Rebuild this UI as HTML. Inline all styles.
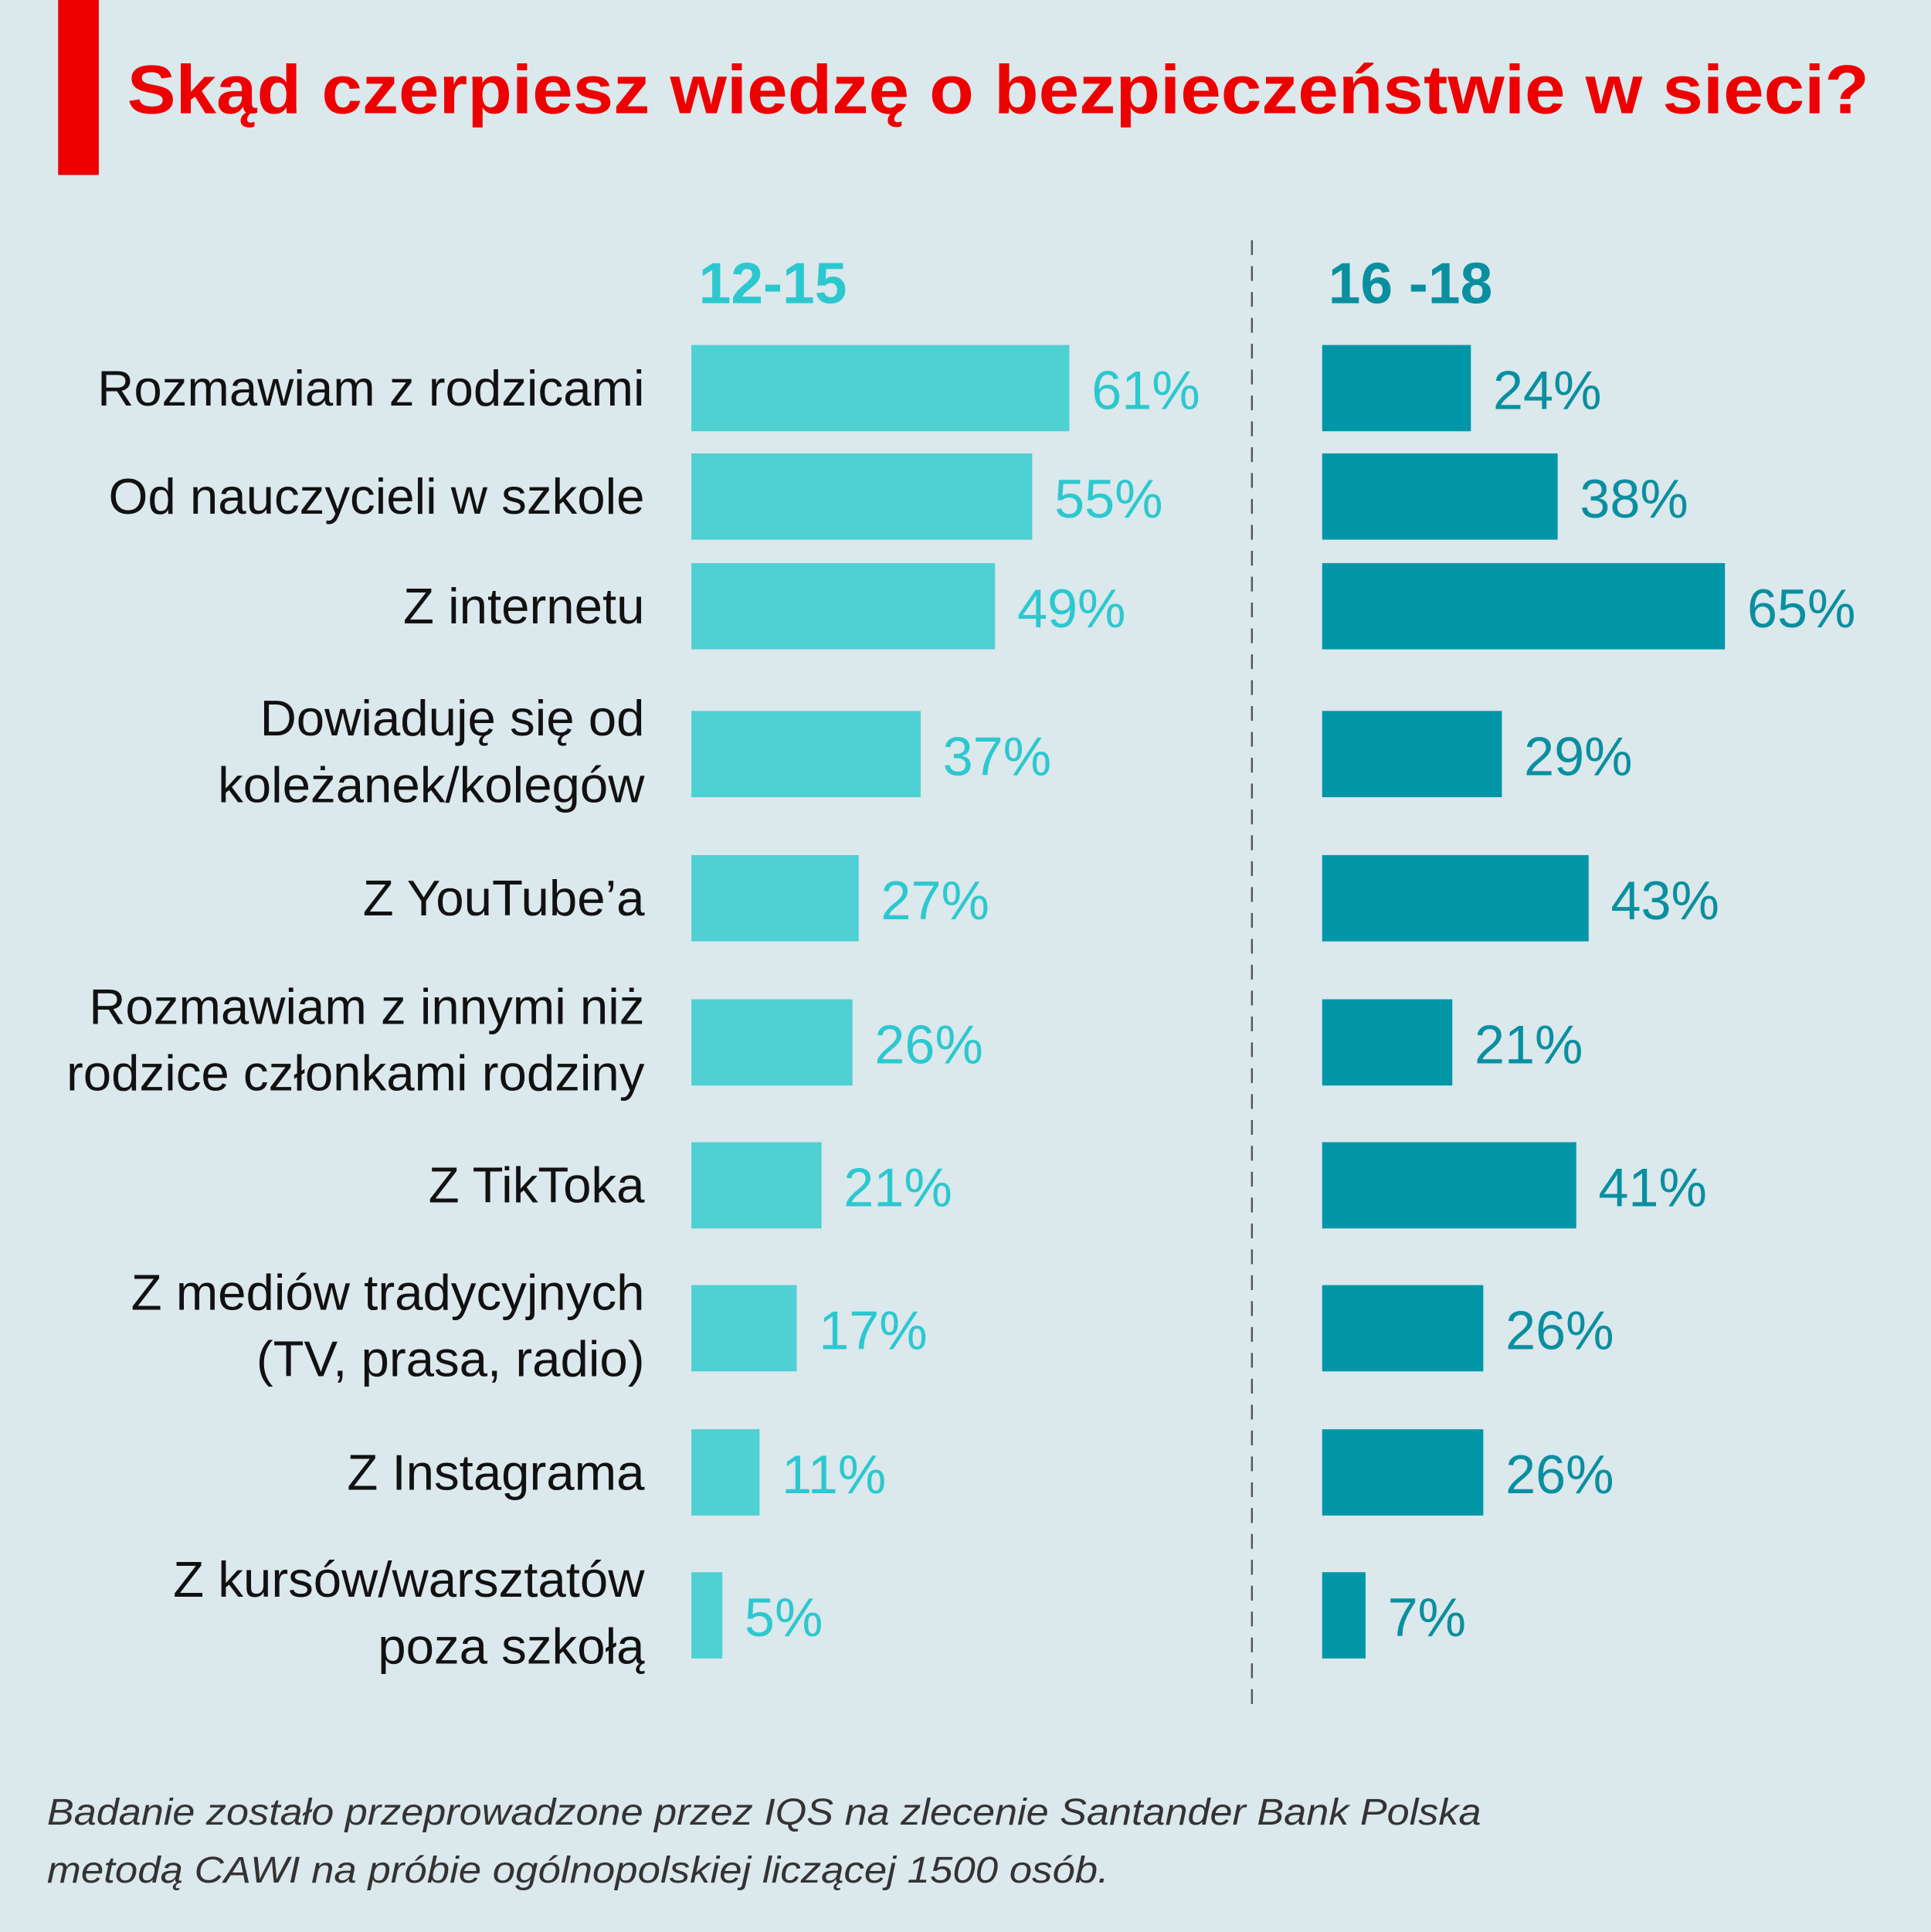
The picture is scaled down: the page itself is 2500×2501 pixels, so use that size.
<!DOCTYPE html>
<html><head><meta charset="utf-8"><style>
html,body{margin:0;padding:0;background:#dbe8ec;}
svg{display:block;font-family:"Liberation Sans",sans-serif;}
</style></head><body>
<svg id="chart" width="2500" height="2501" viewBox="0 0 1567 1568" xmlns="http://www.w3.org/2000/svg">
<rect x="0" y="0" width="1567" height="1568" fill="#dbe8ec"/>
<rect x="47" y="0" width="33" height="142" fill="#ec0000"/>
<text x="103" y="92" font-size="56" font-weight="bold" fill="#ec0000" textLength="1414" lengthAdjust="spacingAndGlyphs">Skąd czerpiesz wiedzę o bezpieczeństwie w sieci?</text>
<text x="567" y="246" font-size="47" font-weight="bold" fill="#2cc8cf">12-15</text>
<text x="1078" y="246" font-size="47" font-weight="bold" fill="#0a8fa0">16 -18</text>
<line x1="1016" y1="195" x2="1016" y2="1390" stroke="#555" stroke-width="1.5" stroke-dasharray="12,9"/>
<g id="rows"></g>
<text x="38" y="1481" font-size="30" font-style="italic" fill="#333" textLength="1164" lengthAdjust="spacingAndGlyphs">Badanie zostało przeprowadzone przez IQS na zlecenie Santander Bank Polska</text>
<text x="38" y="1528" font-size="30" font-style="italic" fill="#333" textLength="862" lengthAdjust="spacingAndGlyphs">metodą CAWI na próbie ogólnopolskiej liczącej 1500 osób.</text>
</svg>
<script>
const categories = [
  ["Rozmawiam z rodzicami"],
  ["Od nauczycieli w szkole"],
  ["Z internetu"],
  ["Dowiaduję się od","koleżanek/kolegów"],
  ["Z YouTube’a"],
  ["Rozmawiam z innymi niż","rodzice członkami rodziny"],
  ["Z TikToka"],
  ["Z mediów tradycyjnych","(TV, prasa, radio)"],
  ["Z Instagrama"],
  ["Z kursów/warsztatów","poza szkołą"]
];
const values1215 = [61,55,49,37,27,26,21,17,11,5];
const values1618 = [24,38,65,29,43,21,41,26,26,7];
const rowTops = [280,368,457,577,694,811,927,1043,1160,1276];

const NS = "http://www.w3.org/2000/svg";
const g = document.getElementById("rows");
const scale = 5.03, x1 = 561, x2 = 1073, barH = 70;
function xLeft(v){return x1 + v*scale;}
function xRight(v){return x2 + v*scale;}
function mk(tag, attrs){const e=document.createElementNS(NS,tag);for(const k in attrs)e.setAttribute(k,attrs[k]);g.appendChild(e);return e;}

categories.forEach((lines,i)=>{
  const top = rowTops[i], cy = top + barH/2;
  const lbl = mk("text",{x:523,"text-anchor":"end","font-size":41,fill:"#111"});
  
  
  if(lines.length===1){
    lbl.setAttribute("y", cy+14);
    lbl.textContent = lines[0];
  } else {
    lines.forEach((t,j)=>{
      const ts=document.createElementNS(NS,"tspan");
      ts.setAttribute("x",523);
      ts.setAttribute("y", cy - 15 + j*54);
      ts.textContent=t; lbl.appendChild(ts);
    });
  }
  const b1 = mk("rect",{x:x1,y:top,width:xLeft(values1215[i])-x1,height:barH,fill:"#4fd0d3"});
  
  
  const v1 = mk("text",{x:xLeft(values1215[i])+18,y:cy+17,"font-size":44,fill:"#2cc8cf"});
  
  
  v1.textContent = values1215[i]+"%";
  const b2 = mk("rect",{x:x2,y:top,width:xRight(values1618[i])-x2,height:barH,fill:"#0096a8"});
  
  
  const v2 = mk("text",{x:xRight(values1618[i])+18,y:cy+17,"font-size":44,fill:"#0a8fa0"});
  
  
  v2.textContent = values1618[i]+"%";
});
</script>
</body></html>
